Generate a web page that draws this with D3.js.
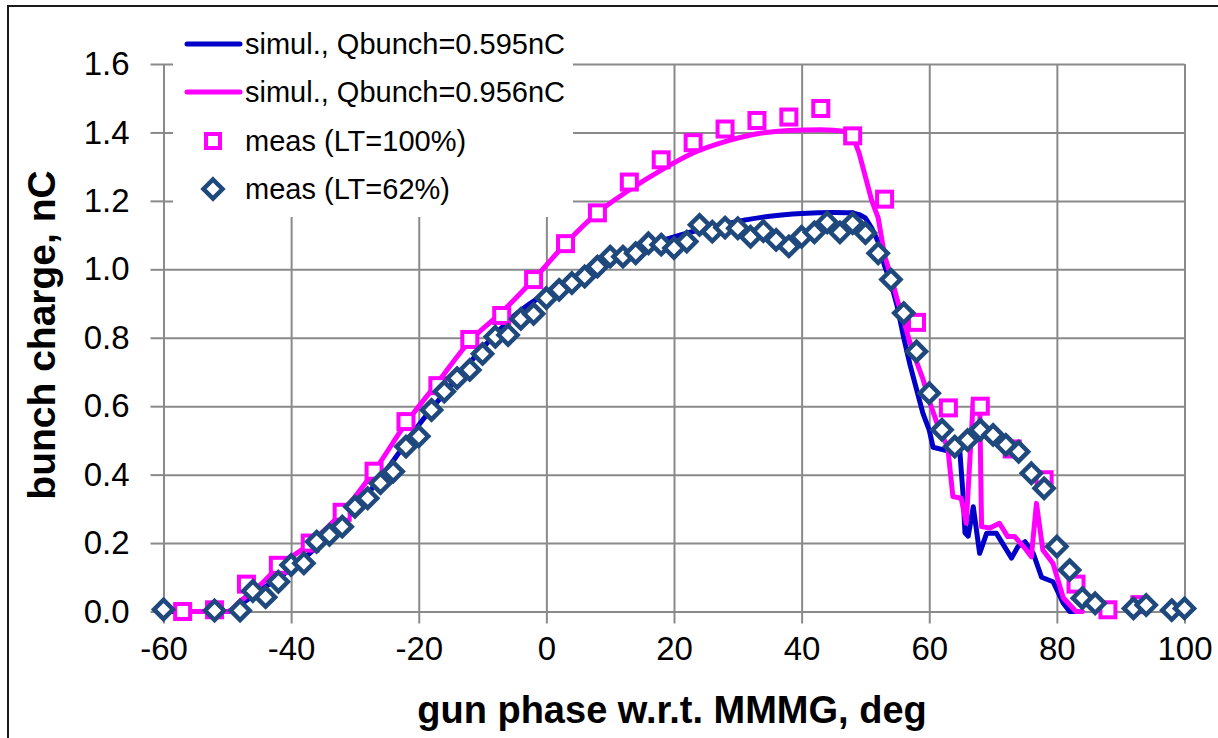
<!DOCTYPE html>
<html>
<head>
<meta charset="utf-8">
<script src="https://cdn.jsdelivr.net/npm/d3@7"></script>
<style>
  body { margin: 0; background: #fff; }
  svg { display: block; font-family: "Liberation Sans", Arial, sans-serif; }
</style>
</head>
<body>
<div id="chart"></div>
<script>
// simulation, Qbunch = 0.595 nC
const simLowX = [-60, -52, -50, -48, -45, -40, -35, -30, -25, -20, -15, -10, -5, 0, 5, 10, 15, 20, 25, 30, 35, 40, 45, 48, 49, 50, 51, 52, 53, 54, 55, 56, 57, 58, 59, 60, 60.6, 62.7, 64.8, 65.3, 65.6, 66.1, 66.9, 67.9, 69, 70.5, 72.9, 73.9, 75, 76.3, 77.6, 79.4, 81, 82, 83];
const simLowY = [0, 0, 0, 0.02, 0.06, 0.125, 0.205, 0.30, 0.415, 0.545, 0.66, 0.77, 0.865, 0.93, 0.975, 1.025, 1.065, 1.095, 1.12, 1.14, 1.155, 1.163, 1.166, 1.165, 1.16, 1.15, 1.12, 1.08, 1.01, 0.96, 0.89, 0.80, 0.72, 0.65, 0.58, 0.53, 0.48, 0.47, 0.467, 0.34, 0.23, 0.22, 0.306, 0.17, 0.229, 0.229, 0.156, 0.19, 0.204, 0.17, 0.10, 0.087, 0.024, 0, 0];

// simulation, Qbunch = 0.956 nC
const simHighX = [-57, -50, -48, -45, -42, -37, -32, -27, -22, -17, -12, -7, -2, 3, 8, 13, 18, 23, 28, 33, 38, 43, 47, 48, 49, 50, 51, 52, 53, 54, 55, 56, 57, 58, 59, 60.1, 61.6, 62.9, 63.7, 65.0, 65.8, 66.9, 67.9, 68.2, 69.5, 71, 72.3, 73.4, 75.2, 76, 76.8, 77.8, 79.4, 81, 83, 84];
const simHighY = [0, 0, 0.03, 0.075, 0.13, 0.2, 0.29, 0.41, 0.55, 0.67, 0.79, 0.875, 0.97, 1.075, 1.165, 1.232, 1.29, 1.34, 1.373, 1.396, 1.406, 1.408, 1.403, 1.39, 1.34, 1.27, 1.2, 1.15, 1.04, 0.98, 0.91, 0.85, 0.785, 0.73, 0.68, 0.61, 0.53, 0.48, 0.336, 0.331, 0.258, 0.618, 0.618, 0.248, 0.244, 0.258, 0.219, 0.219, 0.18, 0.16, 0.316, 0.18, 0.14, 0.04, 0, 0];

// measurement, LT = 100%
const meas100X = [-57, -52, -47, -42, -37, -32, -27, -22, -17, -12, -7, -2, 3, 8, 13, 18, 23, 28, 33, 38, 43, 48, 53, 58, 63, 68, 73, 78, 83, 88, 93];
const meas100Y = [0.0, 0.005, 0.08, 0.135, 0.20, 0.29, 0.41, 0.555, 0.66, 0.795, 0.865, 0.97, 1.075, 1.165, 1.255, 1.32, 1.37, 1.41, 1.435, 1.445, 1.47, 1.39, 1.205, 0.845, 0.595, 0.60, 0.475, 0.385, 0.08, 0.005, 0.02];

// measurement, LT = 62%
const meas62X = [-60, -52, -48, -46, -44, -42, -40, -38, -36, -34, -32, -30, -28, -26, -24, -22, -20, -18, -16, -14, -12, -10, -8, -6, -4, -2, 0, 2, 4, 6, 8, 10, 12, 14, 16, 18, 20, 22, 24, 26, 28, 30, 32, 34, 36, 38, 40, 42, 44, 46, 48, 50, 52, 54, 56, 58, 60, 62, 64, 66, 68, 70, 72, 74, 76, 78, 80, 82, 84, 86, 92, 94, 98, 100];
const meas62Y = [0.006, 0.003, 0.003, 0.06, 0.042, 0.087, 0.136, 0.141, 0.204, 0.224, 0.248, 0.306, 0.331, 0.375, 0.409, 0.482, 0.512, 0.589, 0.643, 0.682, 0.706, 0.753, 0.803, 0.808, 0.855, 0.87, 0.916, 0.94, 0.96, 0.979, 1.008, 1.037, 1.037, 1.047, 1.076, 1.072, 1.062, 1.081, 1.13, 1.11, 1.122, 1.12, 1.095, 1.112, 1.086, 1.067, 1.095, 1.108, 1.137, 1.108, 1.135, 1.106, 1.047, 0.97, 0.872, 0.76, 0.638, 0.531, 0.482, 0.501, 0.531, 0.516, 0.487, 0.467, 0.404, 0.36, 0.19, 0.121, 0.039, 0.024, 0.009, 0.019, 0.004, 0.009];

const xTicks = [-60, -40, -20, 0, 20, 40, 60, 80, 100];
const yTicks = [0, 0.2, 0.4, 0.6, 0.8, 1.0, 1.2, 1.4, 1.6];
const legendLabels = ["simul., Qbunch=0.595nC", "simul., Qbunch=0.956nC", "meas (LT=100%)", "meas (LT=62%)"];

const width = 1218;
const height = 738;
const gridColor = "#8a8a8a";
const blue = "#0000c8";
const pink = "#ff00ff";
const navy = "#1f497d";
const smoothEnd = 48; // simulated curves are smooth up to here, jagged after

const svg = d3.select("#chart")
    .append("svg")
    .attr("width", width)
    .attr("height", height);

// outer chart frame (runs off the right and bottom edges)
svg.append("rect")
    .attr("x", 8).attr("y", 6)
    .attr("width", width + 20).attr("height", height + 20)
    .attr("fill", "#fff")
    .attr("stroke", "#1a1a1a")
    .attr("stroke-width", 2);

const x = d3.scaleLinear().domain([-60, 100]).range([163.5, 1184.5]);
const y = d3.scaleLinear().domain([0, 1.6]).range([611.5, 64]);

// gridlines
svg.append("g")
    .attr("transform", `translate(0,${y(0)})`)
    .call(d3.axisBottom(x).tickValues(xTicks).tickSize(-(y(0) - y(1.6))).tickFormat(""))
    .call(g => g.select(".domain").remove())
    .call(g => g.selectAll("line").attr("stroke", gridColor).attr("stroke-width", 2));

svg.append("g")
    .attr("transform", `translate(${x(-60)},0)`)
    .call(d3.axisLeft(y).tickValues(yTicks).tickSize(-(x(100) - x(-60))).tickFormat(""))
    .call(g => g.select(".domain").remove())
    .call(g => g.selectAll("line").attr("stroke", gridColor).attr("stroke-width", 2));

// axes with outside ticks
svg.append("g")
    .attr("transform", `translate(0,${y(0)})`)
    .call(d3.axisBottom(x).tickValues(xTicks).tickSize(12).tickSizeOuter(0).tickPadding(13).tickFormat(d3.format("d")))
    .call(g => g.select(".domain").attr("stroke", gridColor).attr("stroke-width", 2))
    .call(g => g.selectAll("line").attr("stroke", gridColor).attr("stroke-width", 2))
    .call(g => g.selectAll("text").attr("font-size", 33).attr("fill", "#000")
        .attr("font-family", "Liberation Sans, Arial, sans-serif").text(d => d < 0 ? "-" + Math.abs(d) : d));

svg.append("g")
    .attr("transform", `translate(${x(-60)},0)`)
    .call(d3.axisLeft(y).tickValues(yTicks).tickSize(13).tickSizeOuter(0).tickPadding(21).tickFormat(d3.format(".1f")))
    .call(g => g.select(".domain").attr("stroke", gridColor).attr("stroke-width", 2))
    .call(g => g.selectAll("line").attr("stroke", gridColor).attr("stroke-width", 2))
    .call(g => g.selectAll("text").attr("font-size", 33).attr("fill", "#000")
        .attr("font-family", "Liberation Sans, Arial, sans-serif"));

// legend background hides grid behind it
svg.append("rect")
    .attr("x", 173).attr("y", 20)
    .attr("width", 400).attr("height", 197)
    .attr("fill", "#fff");

// simulated curves: smooth rise, then straight segments through the jagged tail
const smoothLine = d3.line()
    .x(d => x(d[0]))
    .y(d => y(d[1]))
    .curve(d3.curveMonotoneX);
const jaggedLine = d3.line()
    .x(d => x(d[0]))
    .y(d => y(d[1]));

function drawSim(xs, ys, color) {
    const pts = xs.map((v, i) => [v, ys[i]]);
    const head = pts.filter(d => d[0] <= smoothEnd);
    const tail = pts.filter(d => d[0] >= smoothEnd);
    const g = svg.append("g")
        .attr("fill", "none")
        .attr("stroke", color)
        .attr("stroke-width", 5)
        .attr("stroke-linejoin", "round")
        .attr("stroke-linecap", "round");
    g.append("path").datum(head).attr("d", smoothLine);
    g.append("path").datum(tail).attr("d", jaggedLine);
}
drawSim(simLowX, simLowY, blue);
drawSim(simHighX, simHighY, pink);

// measured points
const sq = 15;
svg.append("g").selectAll("rect")
    .data(meas100X.map((v, i) => [v, meas100Y[i]]))
    .enter()
    .append("rect")
    .attr("x", d => x(d[0]) - sq / 2)
    .attr("y", d => y(d[1]) - sq / 2)
    .attr("width", sq).attr("height", sq)
    .attr("fill", "#fff")
    .attr("stroke", pink)
    .attr("stroke-width", 4);

const dm = 9.5;
const diamond = `M0,${-dm}L${dm},0L0,${dm}L${-dm},0Z`;
svg.append("g").selectAll("path")
    .data(meas62X.map((v, i) => [v, meas62Y[i]]))
    .enter()
    .append("path")
    .attr("transform", d => `translate(${x(d[0])},${y(d[1])})`)
    .attr("d", diamond)
    .attr("fill", "#fff")
    .attr("stroke", navy)
    .attr("stroke-width", 4.5)
    .attr("stroke-linejoin", "miter");

// legend entries
const legendY = [44, 92, 141, 189];
const legend = svg.append("g");
legendLabels.forEach((label, i) => {
    const ly = legendY[i];
    if (i < 2) {
        legend.append("line")
            .attr("x1", 187).attr("x2", 240)
            .attr("y1", ly).attr("y2", ly)
            .attr("stroke", i === 0 ? blue : pink)
            .attr("stroke-width", 5)
            .attr("stroke-linecap", "round");
    } else if (i === 2) {
        legend.append("rect")
            .attr("x", 213 - 7).attr("y", ly - 7)
            .attr("width", 14).attr("height", 14)
            .attr("fill", "#fff")
            .attr("stroke", pink)
            .attr("stroke-width", 4);
    } else {
        legend.append("path")
            .attr("transform", `translate(213,${ly})`)
            .attr("d", diamond)
            .attr("fill", "#fff")
            .attr("stroke", navy)
            .attr("stroke-width", 4.5);
    }
    legend.append("text")
        .attr("x", 245).attr("y", ly)
        .attr("dy", "0.36em")
        .attr("font-size", 29)
        .attr("fill", "#000")
        .text(label);
});

// axis titles
svg.append("text")
    .attr("x", 672).attr("y", 723)
    .attr("text-anchor", "middle")
    .attr("font-size", 38)
    .attr("font-weight", "bold")
    .text("gun phase w.r.t. MMMG, deg");

svg.append("text")
    .attr("transform", "translate(55,335) rotate(-90)")
    .attr("text-anchor", "middle")
    .attr("font-size", 39)
    .attr("font-weight", "bold")
    .text("bunch charge, nC");
</script>
</body>
</html>
